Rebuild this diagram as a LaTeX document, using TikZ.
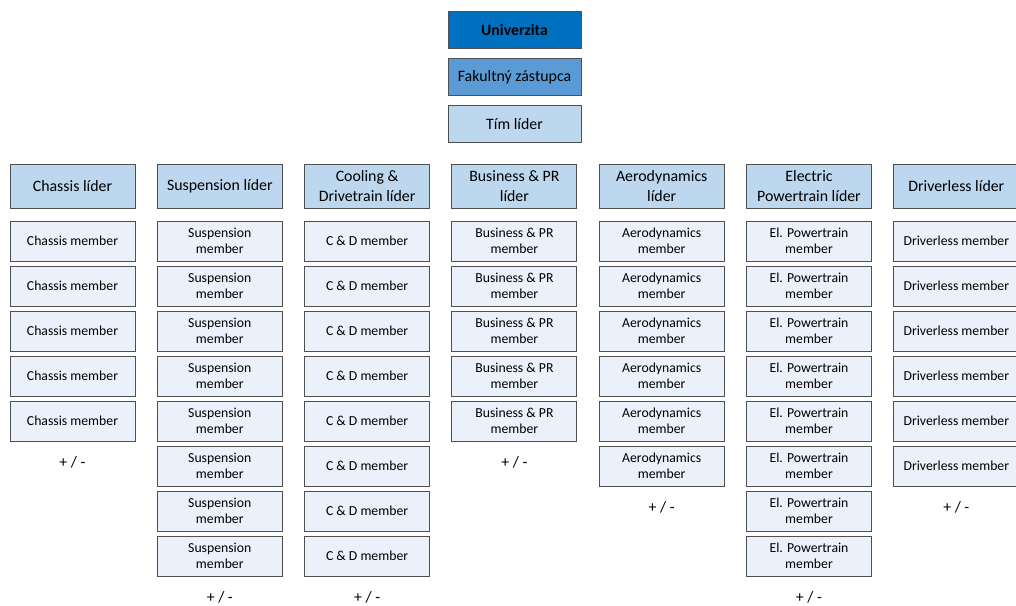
\documentclass[tikz,border=0pt]{standalone}
\usepackage{fontspec}
\setmainfont{Carlito}
\usepackage{xcolor}
\usetikzlibrary{math}

\definecolor{uniblue}{HTML}{0070C0}
\definecolor{facblue}{HTML}{5B9BD5}
\definecolor{leadblue}{HTML}{BDD7EE}
\definecolor{membblue}{HTML}{EAF1FA}
\definecolor{boxline}{HTML}{505050}

\tikzset{
topbox/.style={draw=boxline, line width=0.75pt, minimum width=99.75pt, minimum height=27.75pt, inner sep=0pt, font=\fontsize{11.9}{14}\selectfont},
leadbox/.style={draw=boxline, fill=leadblue, line width=0.75pt, minimum width=93.75pt, minimum height=33pt, inner sep=0pt, align=center, font=\fontsize{11.9}{15}\selectfont},
memberbox/.style={draw=boxline, fill=membblue, line width=0.75pt, minimum width=93.75pt, minimum height=30pt, inner sep=0pt, align=center, font=\fontsize{10.3}{12}\selectfont},
pmtext/.style={inner sep=0pt, font=\fontsize{11.9}{14}\selectfont}
}

\begin{document}
\begin{tikzpicture}[x=0.75pt, y=-0.75pt]
\tikzmath{
\dx=147.3;
\dy=45;
}
\useasboundingbox (0,0) rectangle (1016,606);

\node[topbox, fill=uniblue, font=\fontsize{11.8}{14}\selectfont\bfseries] (uni) at (514.5,30.5) {Univerzita};
\node[topbox, fill=facblue] (fac) at (514.5,77.5) {Fakultný zástupca};
\node[topbox, fill=leadblue] (tim) at (514.5,124.5) {Tím líder};

\foreach \col/\n/\lead/\memb in {
0/5/{Chassis líder}/{Chassis member},
1/8/{Suspension líder}/{Suspension\\member},
2/8/{Cooling \&\\Drivetrain líder}/{C \& D member},
3/5/{Business \& PR\\líder}/{Business \& PR\\member},
4/6/{Aerodynamics\\líder}/{Aerodynamics\\member},
5/8/{Electric\\Powertrain líder}/{El. Powertrain\\member},
6/6/{Driverless líder}/{Driverless member}}{
\node[leadbox] (lead\col) at (72.5+\col*\dx,186) {\lead};
\foreach \j in {1,...,\n}{
\node[memberbox] (memb\col-\j) at (72.5+\col*\dx,241+\j*\dy-\dy) {\memb};
}
\node[pmtext] (pm\col) at (72.5+\col*\dx,282+\n*\dy-\dy) {+ / -};
}

\end{tikzpicture}
\end{document}
